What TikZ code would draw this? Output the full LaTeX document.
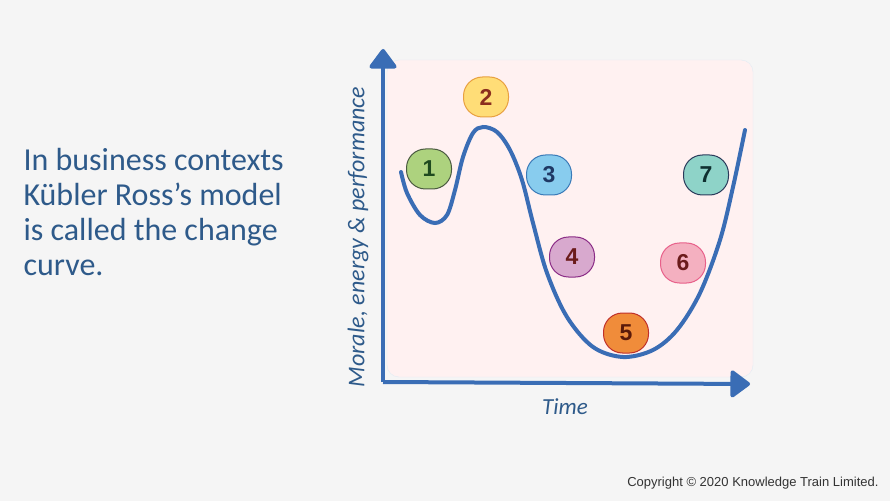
\documentclass[tikz,border=0pt]{standalone}
\usepackage{fontspec}
\setmainfont{Carlito}
\newfontfamily\copyfont{Liberation Sans}
\usetikzlibrary{arrows.meta,positioning}

\definecolor{pagegray}{HTML}{F5F5F5}
\definecolor{panelpink}{HTML}{FFF1F1}
\definecolor{panelline}{HTML}{E2ECF4}
\definecolor{axisblue}{HTML}{3A6DB5}
\definecolor{textblue}{HTML}{2E5A8A}

\begin{document}
\begin{tikzpicture}[
        x=1pt, y=1pt,
        badge/.style={rectangle, rounded corners=19pt, minimum width=45pt, minimum height=40pt,
                      inner sep=0pt, line width=1pt, font=\copyfont\bfseries\fontsize{23}{23}\selectfont},
        axis/.style={line width=4pt, draw=axisblue, -{Triangle[length=21pt,width=30pt,round]}},
        curve/.style={line width=4pt, draw=axisblue, line cap=round}
    ]
        \fill[pagegray] (0,0) rectangle (890,501);
        \filldraw[fill=panelpink, draw=panelline, rounded corners=12pt] (387,124) rectangle (753,441);

        \coordinate (origin) at (383,119);
        \coordinate (ytip) at (383,452);
        \coordinate (xtip) at (750,117);
        \draw[axis] (origin) -- (ytip);
        \draw[axis] (origin) -- (xtip);

        \draw[curve] plot[smooth, tension=0.55] coordinates {
            (401,329) (407,308) (420,286) (435,278) (447,286) (455,311) (463,344) (473,368)
            (483,374) (497,369) (510,351) (522,321) (533,278) (547,228) (567,184) (593,154)
            (623,144) (653,151) (677,171) (700,208) (720,261) (733,314) (745,371)};

        \node[badge, fill={rgb,255:red,173;green,210;blue,126}, draw={rgb,255:red,74;green,90;blue,64},
              text={rgb,255:red,31;green,74;blue,31}] (one) at (429,332) {1};
        \node[badge, fill={rgb,255:red,255;green,221;blue,119}, draw={rgb,255:red,232;green,160;blue,64},
              text={rgb,255:red,139;green,46;blue,30}] (two) at (486,404) {2};
        \node[badge, fill={rgb,255:red,136;green,204;blue,238}, draw={rgb,255:red,58;green,122;blue,184},
              text={rgb,255:red,31;green,56;blue,100}] (three) at (549,326) {3};
        \node[badge, fill={rgb,255:red,216;green,169;blue,206}, draw={rgb,255:red,139;green,44;blue,134},
              text={rgb,255:red,107;green,27;blue,27}] (four) at (572,244) {4};
        \node[badge, fill={rgb,255:red,240;green,140;blue,58}, draw={rgb,255:red,192;green,48;blue,42},
              text={rgb,255:red,90;green,26;blue,10}] (five) at (626,168) {5};
        \node[badge, fill={rgb,255:red,244;green,176;blue,192}, draw={rgb,255:red,232;green,96;blue,138},
              text={rgb,255:red,107;green,27;blue,27}] (six) at (683,238) {6};
        \node[badge, fill={rgb,255:red,142;green,211;blue,200}, draw={rgb,255:red,42;green,58;blue,90},
              text={rgb,255:red,15;green,48;blue,48}] (seven) at (706,326) {7};

        \node[rotate=90, text=textblue, font=\itshape\fontsize{24}{24}\selectfont] (ylabel) at (358,264)
            {Morale, energy \& performance};
        \node[text=textblue, font=\itshape\fontsize{23}{23}\selectfont] (xlabel) at (565,94) {Time};

        \node[anchor=west, align=left, text=textblue, font=\fontsize{32}{35}\selectfont] (intro) at (20,289)
            {In business contexts\\K\"ubler Ross's model\\is called the change\\curve.};

        \node[anchor=east, text=black!80, font=\copyfont\fontsize{13}{13}\selectfont] (copyright) at (882,18)
            {Copyright \textcopyright{} 2020 Knowledge Train Limited.};
\end{tikzpicture}
\end{document}
